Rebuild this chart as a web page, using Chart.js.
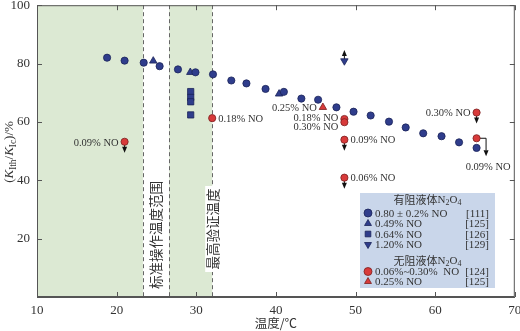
<!DOCTYPE html>
<html>
<head>
<meta charset="utf-8">
<script src="https://cdn.jsdelivr.net/npm/chart.js@4"></script>
<style>
  html, body { margin: 0; padding: 0; background: #fff; }
  #wrap { width: 520px; height: 331px; }
</style>
</head>
<body>
<div id="wrap"><canvas id="chart" width="520" height="331"></canvas></div>
<script>
// inhibited N2O4 (blue)
const circleTemp = [18.8, 21.0, 23.4, 25.4, 27.7, 29.9, 32.1, 34.4, 36.3, 38.7, 41.0, 43.2, 45.3, 47.6, 49.75, 51.9, 54.2, 56.3, 58.5, 60.8, 63.0, 65.2];
const circleRatio = [82.0, 81.0, 80.3, 79.1, 78.0, 77.0, 76.3, 74.2, 73.2, 71.3, 70.3, 68.0, 67.6, 65.0, 63.5, 62.2, 60.1, 58.1, 56.1, 55.1, 53.0, 51.1];
const triTemp = [24.6, 29.25, 40.4];
const triRatio = [80.9, 77.0, 69.6];
const squareTemp = [29.3, 29.3, 29.3, 29.3];
const squareRatio = [70.4, 68.4, 66.9, 62.4];
const downTriTemp = [48.6];
const downTriRatio = [80.9];
// uninhibited N2O4 (red)
const redTemp = [21.0, 32.0, 48.6, 48.6, 48.6, 48.6, 65.2, 65.2];
const redRatio = [53.2, 61.3, 61.0, 59.9, 53.9, 40.9, 63.2, 54.4];
const redTriTemp = [45.9];
const redTriRatio = [65.0];

const xTicks = [10, 20, 30, 40, 50, 60, 70];
const yTicks = [20, 40, 60, 80, 100];

// shaded temperature ranges
const bands = [[10, 23.3], [26.6, 32.0]];
const dashedAt = [23.3, 26.6, 32.0];

// NO content notes beside red points
const noteX = [21.0, 32.0, 45.9, 48.6, 48.6, 48.6, 48.6, 65.2, 65.2];
const noteY = [53.2, 61.3, 65.0, 61.0, 59.9, 53.9, 40.9, 63.2, 54.4];
const noteText = ['0.09% NO', '0.18% NO', '0.25% NO', '0.18% NO', '0.30% NO', '0.09% NO', '0.06% NO', '0.30% NO', '0.09% NO'];
const noteSide = ['left', 'right', 'left', 'leftHigh', 'leftLow', 'right', 'right', 'left', 'below'];

const arrowX = [21.0, 48.6, 48.6, 65.2, 65.2, 48.6];
const arrowY = [53.2, 53.9, 40.9, 63.2, 54.4, 80.9];
const arrowKind = ['down', 'down', 'down', 'down', 'bent', 'up'];

const legendRows = [
  { group: '有阻液体' },
  { label: '0.80 ± 0.2% NO', ref: '[111]', set: 0 },
  { label: '0.49% NO', ref: '[125]', set: 1 },
  { label: '0.64% NO', ref: '[126]', set: 2 },
  { label: '1.20% NO', ref: '[129]', set: 3 },
  { group: '无阻液体' },
  { label: '0.06%~0.30%  NO', ref: '[124]', set: 4 },
  { label: '0.25% NO', ref: '[125]', set: 5 },
];

const BLUE = '#2f3d8c', BLUE_EDGE = '#1a2358';
const RED = '#d83a3a', RED_EDGE = '#7a2020';
const SERIF = '"Liberation Serif", "DejaVu Serif", serif';
const CJK = '"Noto Sans CJK SC", sans-serif';
const INK = '#333';

const zip = (xs, ys) => xs.map((x, i) => ({ x, y: ys[i] }));

function series(label, xs, ys, style, fill, edge, radius, rotation = 0) {
  return {
    label, data: zip(xs, ys),
    pointStyle: style, rotation,
    pointRadius: radius, pointHoverRadius: radius,
    backgroundColor: fill, borderColor: edge, borderWidth: 0.8,
  };
}

// draw text made of parts, some italic or subscript
function richText(ctx, parts, x, y, size, align) {
  const fontOf = p => `${p.italic ? 'italic ' : ''}${p.sub ? size * 0.72 : size}px ${p.cjk ? CJK : SERIF}`;
  let width = 0;
  parts.forEach(p => { ctx.font = fontOf(p); width += ctx.measureText(p.t).width; });
  let cx = align === 'center' ? x - width / 2 : align === 'right' ? x - width : x;
  ctx.textAlign = 'left';
  ctx.textBaseline = 'middle';
  parts.forEach(p => {
    ctx.font = fontOf(p);
    ctx.fillText(p.t, cx, p.sub ? y + size * 0.28 : y);
    cx += ctx.measureText(p.t).width;
  });
}

function arrowHead(ctx, x, y, dir) {
  ctx.beginPath();
  ctx.moveTo(x, y);
  ctx.lineTo(x - 2.5, y - 6 * dir);
  ctx.lineTo(x + 2.5, y - 6 * dir);
  ctx.closePath();
  ctx.fill();
}

const decor = {
  id: 'decor',
  beforeDatasetsDraw(chart) {
    const { ctx, chartArea: a, scales: { x, y } } = chart;
    ctx.save();
    ctx.fillStyle = '#dce9d3';
    bands.forEach(([from, to]) => {
      ctx.fillRect(x.getPixelForValue(from), a.top, x.getPixelForValue(to) - x.getPixelForValue(from), a.bottom - a.top);
    });
    ctx.strokeStyle = '#666';
    ctx.lineWidth = 1;
    ctx.setLineDash([4, 3]);
    dashedAt.forEach(v => {
      const px = Math.round(x.getPixelForValue(v)) + 0.5;
      ctx.beginPath();
      ctx.moveTo(px, a.top);
      ctx.lineTo(px, a.bottom);
      ctx.stroke();
    });
    ctx.setLineDash([]);

    // vertical captions
    ctx.fillStyle = INK;
    ctx.font = `13.5px ${CJK}`;
    ctx.textAlign = 'center';
    ctx.textBaseline = 'middle';
    ctx.save();
    ctx.translate((x.getPixelForValue(bands[0][1]) + x.getPixelForValue(bands[1][0])) / 2, 235);
    ctx.rotate(-Math.PI / 2);
    ctx.fillText('标准操作温度范围', 0, 0);
    ctx.restore();
    ctx.save();
    ctx.translate(x.getPixelForValue(bands[1][1]) + 1, 229);
    ctx.rotate(-Math.PI / 2);
    ctx.fillStyle = '#fff';
    ctx.fillRect(-43, -8, 86, 16);
    ctx.fillStyle = INK;
    ctx.fillText('最高验证温度', 0, 0);
    ctx.restore();

    // arrows
    ctx.strokeStyle = '#111';
    ctx.fillStyle = '#111';
    arrowX.forEach((v, i) => {
      const px = x.getPixelForValue(v), py = y.getPixelForValue(arrowY[i]);
      ctx.beginPath();
      if (arrowKind[i] === 'down') {
        ctx.moveTo(px, py);
        ctx.lineTo(px, py + 7);
        ctx.stroke();
        arrowHead(ctx, px, py + 11, 1);
      } else if (arrowKind[i] === 'up') {
        ctx.moveTo(px, py);
        ctx.lineTo(px, py - 6);
        ctx.stroke();
        arrowHead(ctx, px, py - 11, -1);
      } else {
        ctx.moveTo(px, py);
        ctx.lineTo(px + 9.5, py);
        ctx.lineTo(px + 9.5, py + 12);
        ctx.stroke();
        arrowHead(ctx, px + 9.5, py + 18, 1);
      }
    });
    ctx.restore();
  },
  afterDatasetsDraw(chart) {
    const { ctx, chartArea: a, scales: { x, y } } = chart;
    ctx.save();
    // frame and inward ticks
    ctx.strokeStyle = '#555';
    ctx.lineWidth = 1;
    ctx.strokeRect(a.left + 0.5, a.top + 0.5, a.right - a.left - 1, a.bottom - a.top - 1);
    ctx.beginPath();
    xTicks.forEach(v => {
      const px = Math.round(x.getPixelForValue(v)) + 0.5;
      ctx.moveTo(px, a.bottom); ctx.lineTo(px, a.bottom - 5);
      ctx.moveTo(px, a.top); ctx.lineTo(px, a.top + 5);
    });
    yTicks.forEach(v => {
      const py = Math.round(y.getPixelForValue(v)) + 0.5;
      ctx.moveTo(a.left, py); ctx.lineTo(a.left + 5, py);
      ctx.moveTo(a.right, py); ctx.lineTo(a.right - 5, py);
    });
    ctx.stroke();

    // notes
    ctx.fillStyle = INK;
    noteX.forEach((v, i) => {
      const px = x.getPixelForValue(v), py = y.getPixelForValue(noteY[i]);
      ctx.font = `10.5px ${SERIF}`;
      ctx.textBaseline = 'middle';
      const side = noteSide[i];
      if (side === 'left') { ctx.textAlign = 'right'; ctx.fillText(noteText[i], px - 6, py + 1); }
      else if (side === 'leftHigh') { ctx.textAlign = 'right'; ctx.fillText(noteText[i], px - 6, py - 1); }
      else if (side === 'leftLow') { ctx.textAlign = 'right'; ctx.fillText(noteText[i], px - 6, py + 5); }
      else if (side === 'right') { ctx.textAlign = 'left'; ctx.fillText(noteText[i], px + 6, py + 1); }
      else { ctx.textAlign = 'right'; ctx.fillText(noteText[i], px + 34, py + 28.5); }
    });

    // y axis title
    ctx.save();
    ctx.translate(10, 152);
    ctx.rotate(-Math.PI / 2);
    ctx.fillStyle = INK;
    richText(ctx, [
      { t: '(' }, { t: 'K', italic: true }, { t: 'Ith', sub: true }, { t: '/' },
      { t: 'K', italic: true }, { t: 'Ic', sub: true }, { t: ')/%' },
    ], 0, 0, 13, 'center');
    ctx.restore();

    // x axis title
    ctx.fillStyle = INK;
    richText(ctx, [{ t: '温度/', cjk: true }, { t: '℃', cjk: true }], (a.left + a.right) / 2, 323, 12.5, 'center');

    // legend box
    const bx = 360, by = 193, bw = 135, bh = 95;
    ctx.fillStyle = '#c9d6ea';
    ctx.fillRect(bx, by, bw, bh);
    const rowY = [199, 213, 223.5, 234, 244.5, 260, 271.5, 281.5];
    legendRows.forEach((row, i) => {
      const ry = rowY[i];
      ctx.fillStyle = INK;
      if (row.group) {
        richText(ctx, [{ t: row.group, cjk: true }, { t: 'N' }, { t: '2', sub: true }, { t: 'O' }, { t: '4', sub: true }], bx + bw / 2, ry + 1, 11, 'center');
        return;
      }
      const ds = chart.data.datasets[row.set];
      ctx.fillStyle = ds.backgroundColor;
      ctx.strokeStyle = ds.borderColor;
      ctx.lineWidth = 0.8;
      Chart.helpers.drawPoint(ctx, { pointStyle: ds.pointStyle, rotation: ds.rotation, radius: 4, borderWidth: 0.8 }, bx + 8, ry);
      ctx.fillStyle = INK;
      ctx.font = `11px ${SERIF}`;
      ctx.textBaseline = 'middle';
      ctx.textAlign = 'left';
      ctx.fillText(row.label, bx + 15, ry + 1);
      ctx.textAlign = 'right';
      ctx.fillText(row.ref, bx + bw - 6, ry + 1);
    });
    ctx.restore();
  },
};

new Chart(document.querySelector('#chart'), {
  type: 'scatter',
  data: {
    datasets: [
      series('0.80 ± 0.2% NO', circleTemp, circleRatio, 'circle', BLUE, BLUE_EDGE, 3.6),
      series('0.49% NO', triTemp, triRatio, 'triangle', BLUE, BLUE_EDGE, 4.3),
      series('0.64% NO', squareTemp, squareRatio, 'rect', BLUE, BLUE_EDGE, 4.4),
      series('1.20% NO', downTriTemp, downTriRatio, 'triangle', BLUE, BLUE_EDGE, 4.3, 180),
      series('0.06%~0.30% NO', redTemp, redRatio, 'circle', RED, RED_EDGE, 3.6),
      series('0.25% NO', redTriTemp, redTriRatio, 'triangle', RED, RED_EDGE, 4.3),
    ],
  },
  options: {
    responsive: false,
    animation: false,
    devicePixelRatio: 1,
    layout: { padding: { top: 4, right: 3, left: 0, bottom: 0 } },
    plugins: { legend: { display: false }, tooltip: { enabled: false } },
    scales: {
      x: {
        type: 'linear', min: 10, max: 70,
        afterBuildTicks: s => { s.ticks = xTicks.map(value => ({ value })); },
        afterFit: s => { s.height = 34; s.paddingLeft = 0; s.paddingRight = 0; },
        grid: { drawOnChartArea: false, drawTicks: false },
        border: { color: '#555' },
        ticks: { color: INK, padding: 6, font: { family: SERIF, size: 13 } },
      },
      y: {
        type: 'linear', min: 0, max: 100,
        afterBuildTicks: s => { s.ticks = yTicks.map(value => ({ value })); },
        afterFit: s => { s.width = 37; s.paddingTop = 0; s.paddingBottom = 0; },
        grid: { drawOnChartArea: false, drawTicks: false },
        border: { color: '#555' },
        ticks: { color: INK, padding: 7, font: { family: SERIF, size: 13 } },
      },
    },
  },
  plugins: [decor],
});
</script>
</body>
</html>
